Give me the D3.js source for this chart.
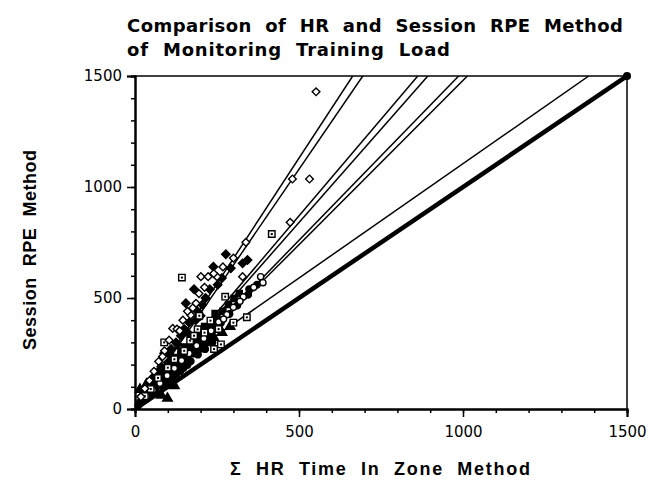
<!DOCTYPE html>
<html><head><meta charset="utf-8">
<script src="https://cdn.jsdelivr.net/npm/d3@7"></script>
<style>body{margin:0;background:#fff}svg{display:block}</style>
</head><body>
<svg id="c" width="659" height="481"></svg>
<script>
// ---------- data ----------
const xMajorTicks = [0, 500, 1000, 1500];
const yMajorTicks = [0, 500, 1000, 1500];
const minorTicks = d3.range(0, 1501, 100);
const titleLines = ["Comparison  of  HR  and  Session  RPE  Method", "of  Monitoring  Training  Load"];
const xLabel = "Σ  HR  Time  In  Zone  Method";
const yLabel = "Session  RPE  Method";

// individual regression lines (slope, intercept)
const lineSlopes = [2.26, 2.16, 1.74, 1.68, 1.52, 1.48, 1.03];
const lineIntercepts = [0, 0, 0, 0, 0, 0, 75];
const identityLine = [[0, 0], [1500, 1500]];

// subjects: [HR time in zone, session RPE]
const subjA = [[552,1429],[480,1036],[532,1036],[473,841],[338,751],[201,596],[223,596],[250,596],[328,596],[115,363],[186,476],[170,423],[146,400],[128,360],[104,310],[90,262],[72,214],[58,170],[44,128],[30,92],[18,55],[160,440],[195,520],[212,548],[240,610],[268,640],[300,680],[84,236],[136,352],[176,455]];
const subjB = [[277,697],[343,671],[328,656],[239,641],[292,634],[180,539],[228,539],[155,476],[89,251],[60,150],[38,96],[22,60],[110,270],[125,300],[140,330],[165,390],[190,440],[205,470],[215,500],[252,560],[265,590],[100,210],[75,175],[50,120],[150,360],[30,75],[55,135],[80,190],[105,245],[130,290],[160,345],[185,400],[200,420]];
const subjC = [[417,788],[143,592],[275,506],[341,413],[300,389],[89,300],[191,359],[168,308],[262,291],[241,270],[212,344],[230,398],[196,420],[150,262],[120,224],[100,186],[70,140],[48,90],[30,58],[180,330],[255,360]];
const subjD = [[40,68],[55,92],[70,118],[85,142],[100,168],[115,192],[130,214],[145,240],[160,262],[175,288],[190,310],[205,332],[220,360],[235,385],[250,412],[268,440],[285,470],[302,498],[318,520],[25,44],[62,128],[92,175],[122,232],[152,280],[182,330],[212,372],[244,430],[30,60],[45,85],[60,105],[75,130],[90,150],[105,178],[120,200],[135,225],[150,250],[165,275],[180,300],[195,322],[210,350],[225,370],[20,35],[50,100],[80,155],[110,210],[140,260],[170,300],[200,340],[65,115],[95,165],[125,220],[155,270],[185,320],[215,365],[40,75],[170,315],[140,245],[110,200]];
const subjE = [[383,596],[390,569],[362,548],[330,505],[300,458],[280,425],[255,392],[232,352],[210,318],[188,285],[165,250],[142,218],[120,183],[98,150],[76,116],[55,84],[35,54],[320,485],[270,405]];
const subjF = [[372,560],[345,515],[312,466],[288,428],[262,388],[240,356],[218,322],[196,290],[174,258],[152,226],[130,194],[108,160],[86,128],[64,96],[42,64],[20,32],[10,16],[348,540],[15,30],[28,48],[52,80],[70,110],[95,140],[118,172],[140,205],[162,240],[185,270],[208,305],[230,335],[250,370],[35,45],[58,75],[82,105],[104,130],[126,158],[148,185],[170,215],[192,245],[214,270],[236,300],[60,88],[90,118],[115,140],[138,170],[160,198]];
const subjG = [[15,88],[35,112],[55,128],[78,160],[100,178],[122,202],[145,228],[168,250],[190,270],[215,298],[240,322],[265,345],[290,372],[62,145],[110,195],[155,240],[200,285],[99,48],[80,62],[120,105],[25,70],[45,95],[68,120],[90,150],[112,170],[135,198],[158,222],[180,248],[205,275],[228,300]];

// ---------- chart ----------
const svg = d3.select("#c");
const x = d3.scaleLinear().domain([0, 1500]).range([135, 627]);
const y = d3.scaleLinear().domain([0, 1500]).range([409, 76]);

svg.append("defs").append("clipPath").attr("id", "plot")
  .append("rect").attr("x", x(0)).attr("y", y(1500))
  .attr("width", x(1500) - x(0)).attr("height", y(0) - y(1500));

// title
const tFont = "'DejaVu Sans', Verdana, sans-serif";
const titleWidths = [496, 323];
titleLines.forEach((t, i) => {
  svg.append("text").attr("x", 127).attr("y", 32 + i * 23.5)
    .attr("font-family", tFont).attr("font-size", 18).attr("font-weight", 600)
    .attr("textLength", titleWidths[i]).attr("lengthAdjust", "spacing")
    .attr("fill", "#000").style("white-space", "pre").text(t);
});

// lines
const gL = svg.append("g").attr("clip-path", "url(#plot)");
lineSlopes.forEach((m, i) => {
  const b = lineIntercepts[i];
  const xEnd = Math.min(1500, (1500 - b) / m);
  gL.append("line")
    .attr("x1", x(0)).attr("y1", y(b))
    .attr("x2", x(xEnd)).attr("y2", y(m * xEnd + b))
    .attr("stroke", "#000").attr("stroke-width", 1.5);
});
gL.append("line")
  .attr("x1", x(identityLine[0][0])).attr("y1", y(identityLine[0][1]))
  .attr("x2", x(identityLine[1][0])).attr("y2", y(identityLine[1][1]))
  .attr("stroke", "#000").attr("stroke-width", 4.5);
svg.append("circle").attr("cx", x(1500)).attr("cy", y(1500)).attr("r", 4).attr("fill", "#000");

// markers
const gP = svg.append("g");
function draw(data, type, size, filled, rot, dot) {
  const sym = d3.symbol().type(type).size(size)();
  data.forEach(d => {
    const g = gP.append("g").attr("transform", `translate(${x(d[0])},${y(d[1])}) rotate(${rot})`);
    g.append("path").attr("d", sym)
      .attr("fill", filled ? "#000" : "#fff").attr("stroke", "#000").attr("stroke-width", 1.4);
    if (dot) g.append("rect").attr("x", -1).attr("y", -1).attr("width", 2).attr("height", 2).attr("fill", "#000");
  });
}
draw(subjG, d3.symbolTriangle, 40, true, 0, false);
draw(subjF, d3.symbolCircle, 34, true, 0, false);
draw(subjD, d3.symbolSquare, 36, true, 0, false);
draw(subjE, d3.symbolCircle, 30, false, 0, false);
draw(subjB, d3.symbolSquare, 36, true, 45, false);
draw(subjC, d3.symbolSquare, 42, false, 0, true);
draw(subjA, d3.symbolSquare, 30, false, 45, false);

// axes
const lFont = "'DejaVu Sans', Verdana, sans-serif";
const yAxisMinor = d3.axisLeft(y).tickValues(minorTicks).tickSize(4).tickFormat("");
const yAxisMajor = d3.axisLeft(y).tickValues(yMajorTicks).tickSize(8).tickPadding(5).tickFormat(d3.format("d"));
const xAxisMinor = d3.axisBottom(x).tickValues(minorTicks).tickSize(4).tickFormat("");
const xAxisMajor = d3.axisBottom(x).tickValues(xMajorTicks).tickSize(8).tickPadding(9).tickFormat(d3.format("d"));

function styleAxis(g) {
  g.select(".domain").attr("stroke", "#000").attr("stroke-width", 2);
  g.selectAll(".tick line").attr("stroke", "#000").attr("stroke-width", 1.5);
  g.selectAll("text").attr("font-family", lFont).attr("font-size", 15).attr("fill", "#000");
}
svg.append("g").attr("transform", `translate(${x(0)},0)`).call(yAxisMinor).call(styleAxis);
svg.append("g").attr("transform", `translate(${x(0)},0)`).call(yAxisMajor).call(styleAxis);
svg.append("g").attr("transform", `translate(0,${y(0)})`).call(xAxisMinor).call(styleAxis);
svg.append("g").attr("transform", `translate(0,${y(0)})`).call(xAxisMajor).call(styleAxis);

// frame top and right
svg.append("line").attr("x1", x(0)).attr("y1", y(1500)).attr("x2", x(1500)).attr("y2", y(1500))
  .attr("stroke", "#000").attr("stroke-width", 1.5);
svg.append("line").attr("x1", x(1500)).attr("y1", y(1500)).attr("x2", x(1500)).attr("y2", y(0))
  .attr("stroke", "#000").attr("stroke-width", 1.5);

// axis titles
const bFont = "'Liberation Sans', Arial, Helvetica, sans-serif";
svg.append("text").attr("x", 380).attr("y", 475).attr("text-anchor", "middle")
  .attr("font-family", bFont).attr("font-size", 18).attr("font-weight", "bold")
  .attr("textLength", 300).attr("lengthAdjust", "spacing")
  .style("white-space", "pre").text(xLabel);
svg.append("text").attr("transform", "translate(36,250) rotate(-90)").attr("text-anchor", "middle")
  .attr("font-family", bFont).attr("font-size", 18).attr("font-weight", "bold")
  .attr("textLength", 200).attr("lengthAdjust", "spacing")
  .style("white-space", "pre").text(yLabel);
</script>
</body></html>
